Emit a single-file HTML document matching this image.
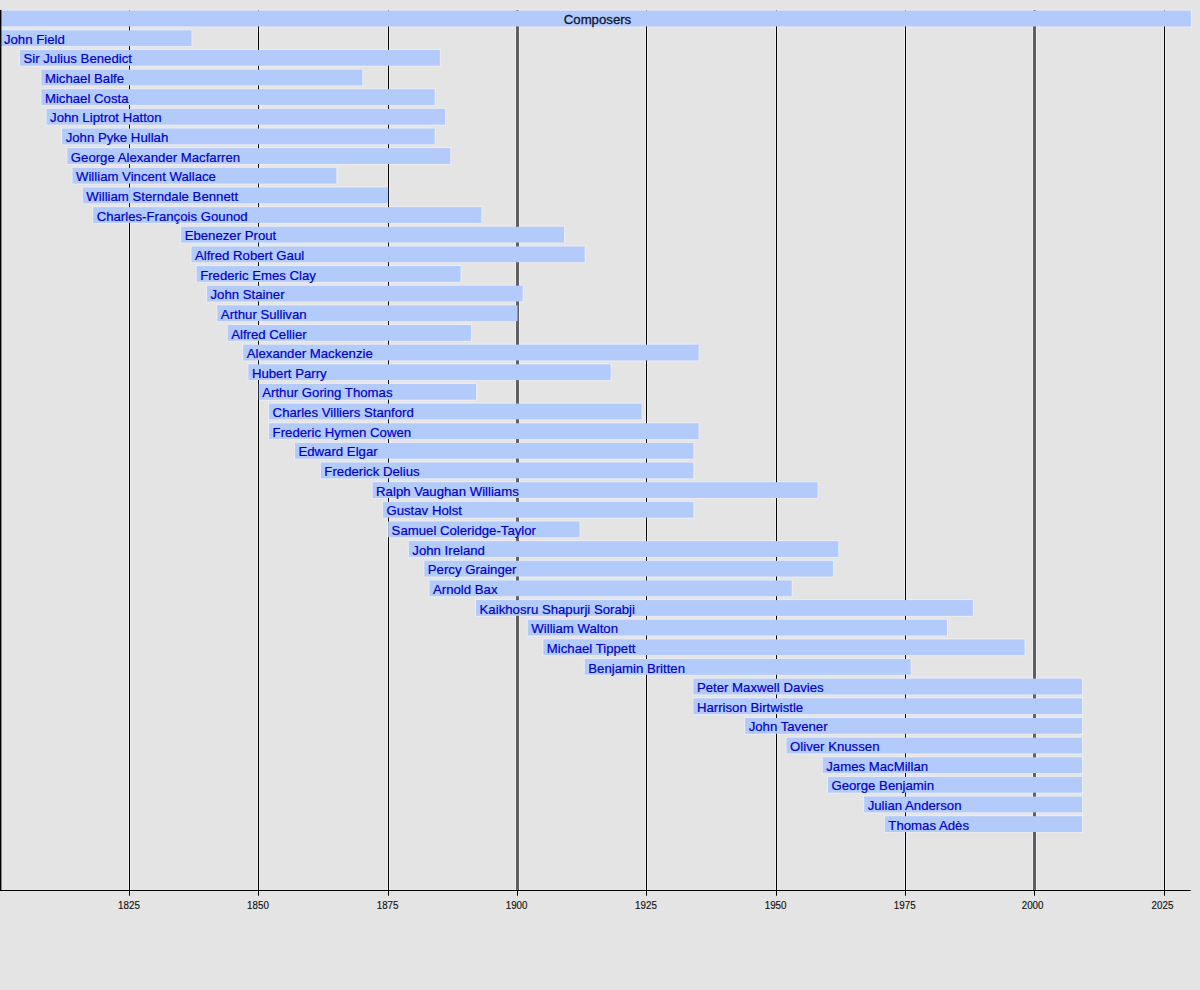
<!DOCTYPE html>
<html><head><meta charset="utf-8"><title>Composers timeline</title>
<style>
html,body{margin:0;padding:0;background:#e4e4e4;}
body{width:1200px;height:990px;overflow:hidden;}
svg{display:block;font-family:"Liberation Sans",sans-serif;}
</style></head><body>
<svg width="1200" height="990" viewBox="0 0 1200 990">
<rect x="0" y="0" width="1200" height="990" fill="#e4e4e4"/>

<rect x="-0.96" y="9.54" width="1192.86" height="18.00" fill="#ebebf1"/>
<rect x="-1.00" y="29.19" width="193.59" height="18.00" fill="#ebebf1"/>
<rect x="18.96" y="48.84" width="422.00" height="18.00" fill="#ebebf1"/>
<rect x="40.44" y="68.48" width="322.91" height="18.00" fill="#ebebf1"/>
<rect x="40.44" y="88.13" width="395.35" height="18.00" fill="#ebebf1"/>
<rect x="45.61" y="107.78" width="400.53" height="18.00" fill="#ebebf1"/>
<rect x="61.13" y="127.43" width="374.66" height="18.00" fill="#ebebf1"/>
<rect x="66.31" y="147.08" width="385.01" height="18.00" fill="#ebebf1"/>
<rect x="71.48" y="166.72" width="265.99" height="18.00" fill="#ebebf1"/>
<rect x="81.83" y="186.37" width="307.39" height="18.00" fill="#ebebf1"/>
<rect x="92.18" y="206.02" width="390.18" height="18.00" fill="#ebebf1"/>
<rect x="180.14" y="225.67" width="385.01" height="18.00" fill="#ebebf1"/>
<rect x="190.49" y="245.32" width="395.35" height="18.00" fill="#ebebf1"/>
<rect x="195.67" y="264.96" width="265.99" height="18.00" fill="#ebebf1"/>
<rect x="206.02" y="284.61" width="317.74" height="18.00" fill="#ebebf1"/>
<rect x="216.36" y="304.26" width="302.22" height="18.00" fill="#ebebf1"/>
<rect x="226.71" y="323.91" width="245.30" height="18.00" fill="#ebebf1"/>
<rect x="242.24" y="343.56" width="457.45" height="18.00" fill="#ebebf1"/>
<rect x="247.41" y="363.20" width="364.31" height="18.00" fill="#ebebf1"/>
<rect x="257.76" y="382.85" width="219.42" height="18.00" fill="#ebebf1"/>
<rect x="268.11" y="402.50" width="374.66" height="18.00" fill="#ebebf1"/>
<rect x="268.11" y="422.15" width="431.58" height="18.00" fill="#ebebf1"/>
<rect x="293.98" y="441.80" width="400.53" height="18.00" fill="#ebebf1"/>
<rect x="319.85" y="461.44" width="374.66" height="18.00" fill="#ebebf1"/>
<rect x="371.60" y="481.09" width="447.10" height="18.00" fill="#ebebf1"/>
<rect x="381.95" y="500.74" width="312.56" height="18.00" fill="#ebebf1"/>
<rect x="387.12" y="520.39" width="193.55" height="18.00" fill="#ebebf1"/>
<rect x="407.82" y="540.04" width="431.58" height="18.00" fill="#ebebf1"/>
<rect x="423.34" y="559.68" width="410.88" height="18.00" fill="#ebebf1"/>
<rect x="428.52" y="579.33" width="364.31" height="18.00" fill="#ebebf1"/>
<rect x="475.08" y="598.98" width="498.84" height="18.00" fill="#ebebf1"/>
<rect x="526.83" y="618.63" width="421.23" height="18.00" fill="#ebebf1"/>
<rect x="542.35" y="638.28" width="483.32" height="18.00" fill="#ebebf1"/>
<rect x="583.75" y="657.92" width="328.09" height="18.00" fill="#ebebf1"/>
<rect x="692.41" y="677.57" width="390.70" height="18.00" fill="#ebebf1"/>
<rect x="692.41" y="697.22" width="390.70" height="18.00" fill="#ebebf1"/>
<rect x="744.15" y="716.87" width="338.95" height="18.00" fill="#ebebf1"/>
<rect x="785.55" y="736.52" width="297.56" height="18.00" fill="#ebebf1"/>
<rect x="821.77" y="756.16" width="261.34" height="18.00" fill="#ebebf1"/>
<rect x="826.94" y="775.81" width="256.16" height="18.00" fill="#ebebf1"/>
<rect x="863.16" y="795.46" width="219.94" height="18.00" fill="#ebebf1"/>
<rect x="883.86" y="815.11" width="199.24" height="18.00" fill="#ebebf1"/>
<rect x="128" y="10.50" width="1" height="879.80" fill="#efeff1"/>
<rect x="130" y="10.50" width="1" height="879.80" fill="#efeff1"/>
<rect x="257" y="10.50" width="1" height="879.80" fill="#efeff1"/>
<rect x="259" y="10.50" width="1" height="879.80" fill="#efeff1"/>
<rect x="387" y="10.50" width="1" height="879.80" fill="#efeff1"/>
<rect x="389" y="10.50" width="1" height="879.80" fill="#efeff1"/>
<rect x="515" y="10.50" width="1" height="879.80" fill="#efeff1"/>
<rect x="519" y="10.50" width="1" height="879.80" fill="#efeff1"/>
<rect x="645" y="10.50" width="1" height="879.80" fill="#efeff1"/>
<rect x="647" y="10.50" width="1" height="879.80" fill="#efeff1"/>
<rect x="775" y="10.50" width="1" height="879.80" fill="#efeff1"/>
<rect x="777" y="10.50" width="1" height="879.80" fill="#efeff1"/>
<rect x="904" y="10.50" width="1" height="879.80" fill="#efeff1"/>
<rect x="906" y="10.50" width="1" height="879.80" fill="#efeff1"/>
<rect x="1032" y="10.50" width="1" height="879.80" fill="#efeff1"/>
<rect x="1036" y="10.50" width="1" height="879.80" fill="#efeff1"/>
<rect x="1163" y="10.50" width="1" height="879.80" fill="#efeff1"/>
<rect x="1165" y="10.50" width="1" height="879.80" fill="#efeff1"/>
<rect x="129" y="10.50" width="1" height="879.80" fill="#000"/>
<rect x="258" y="10.50" width="1" height="879.80" fill="#000"/>
<rect x="388" y="10.50" width="1" height="879.80" fill="#000"/>
<rect x="516" y="10.50" width="3" height="879.80" fill="#606060"/>
<rect x="517" y="10.50" width="1" height="1" fill="#000"/>
<rect x="646" y="10.50" width="1" height="879.80" fill="#000"/>
<rect x="776" y="10.50" width="1" height="879.80" fill="#000"/>
<rect x="905" y="10.50" width="1" height="879.80" fill="#000"/>
<rect x="1033" y="10.50" width="3" height="879.80" fill="#606060"/>
<rect x="1034" y="10.50" width="1" height="1" fill="#000"/>
<rect x="1164" y="10.50" width="1" height="879.80" fill="#000"/>
<defs><filter id="sb" x="-1%" y="-5%" width="102%" height="110%"><feGaussianBlur stdDeviation="0.45"/></filter></defs><g filter="url(#sb)"><rect x="0.04" y="10.64" width="1190.76" height="15.8" fill="#b3cbfb"/>
<rect x="0.00" y="30.29" width="191.49" height="15.8" fill="#b3cbfb"/>
<rect x="19.96" y="49.94" width="419.90" height="15.8" fill="#b3cbfb"/>
<rect x="41.44" y="69.58" width="320.81" height="15.8" fill="#b3cbfb"/>
<rect x="41.44" y="89.23" width="393.25" height="15.8" fill="#b3cbfb"/>
<rect x="46.61" y="108.88" width="398.43" height="15.8" fill="#b3cbfb"/>
<rect x="62.13" y="128.53" width="372.56" height="15.8" fill="#b3cbfb"/>
<rect x="67.31" y="148.18" width="382.91" height="15.8" fill="#b3cbfb"/>
<rect x="72.48" y="167.82" width="263.89" height="15.8" fill="#b3cbfb"/>
<rect x="82.83" y="187.47" width="305.29" height="15.8" fill="#b3cbfb"/>
<rect x="93.18" y="207.12" width="388.08" height="15.8" fill="#b3cbfb"/>
<rect x="181.14" y="226.77" width="382.91" height="15.8" fill="#b3cbfb"/>
<rect x="191.49" y="246.42" width="393.25" height="15.8" fill="#b3cbfb"/>
<rect x="196.67" y="266.06" width="263.89" height="15.8" fill="#b3cbfb"/>
<rect x="207.02" y="285.71" width="315.64" height="15.8" fill="#b3cbfb"/>
<rect x="217.36" y="305.36" width="300.12" height="15.8" fill="#b3cbfb"/>
<rect x="227.71" y="325.01" width="243.20" height="15.8" fill="#b3cbfb"/>
<rect x="243.24" y="344.66" width="455.35" height="15.8" fill="#b3cbfb"/>
<rect x="248.41" y="364.30" width="362.21" height="15.8" fill="#b3cbfb"/>
<rect x="258.76" y="383.95" width="217.32" height="15.8" fill="#b3cbfb"/>
<rect x="269.11" y="403.60" width="372.56" height="15.8" fill="#b3cbfb"/>
<rect x="269.11" y="423.25" width="429.48" height="15.8" fill="#b3cbfb"/>
<rect x="294.98" y="442.90" width="398.43" height="15.8" fill="#b3cbfb"/>
<rect x="320.85" y="462.54" width="372.56" height="15.8" fill="#b3cbfb"/>
<rect x="372.60" y="482.19" width="445.00" height="15.8" fill="#b3cbfb"/>
<rect x="382.95" y="501.84" width="310.46" height="15.8" fill="#b3cbfb"/>
<rect x="388.12" y="521.49" width="191.45" height="15.8" fill="#b3cbfb"/>
<rect x="408.82" y="541.14" width="429.48" height="15.8" fill="#b3cbfb"/>
<rect x="424.34" y="560.78" width="408.78" height="15.8" fill="#b3cbfb"/>
<rect x="429.52" y="580.43" width="362.21" height="15.8" fill="#b3cbfb"/>
<rect x="476.08" y="600.08" width="496.74" height="15.8" fill="#b3cbfb"/>
<rect x="527.83" y="619.73" width="419.13" height="15.8" fill="#b3cbfb"/>
<rect x="543.35" y="639.38" width="481.22" height="15.8" fill="#b3cbfb"/>
<rect x="584.75" y="659.02" width="325.99" height="15.8" fill="#b3cbfb"/>
<rect x="693.41" y="678.67" width="388.60" height="15.8" fill="#b3cbfb"/>
<rect x="693.41" y="698.32" width="388.60" height="15.8" fill="#b3cbfb"/>
<rect x="745.15" y="717.97" width="336.85" height="15.8" fill="#b3cbfb"/>
<rect x="786.55" y="737.62" width="295.46" height="15.8" fill="#b3cbfb"/>
<rect x="822.77" y="757.26" width="259.24" height="15.8" fill="#b3cbfb"/>
<rect x="827.94" y="776.91" width="254.06" height="15.8" fill="#b3cbfb"/>
<rect x="864.16" y="796.56" width="217.84" height="15.8" fill="#b3cbfb"/>
<rect x="884.86" y="816.21" width="197.14" height="15.8" fill="#b3cbfb"/></g>
<text x="597.5" y="24.14" font-size="13.2" fill="#0e1436" stroke="#0e1436" stroke-width="0.3" text-anchor="middle">Composers</text>
<text x="3.90" y="43.79" font-size="13.2" fill="#0000c4" stroke="#0000c4" stroke-width="0.2">John Field</text>
<text x="23.46" y="63.44" font-size="13.2" fill="#0000c4" stroke="#0000c4" stroke-width="0.2">Sir Julius Benedict</text>
<text x="44.94" y="83.08" font-size="13.2" fill="#0000c4" stroke="#0000c4" stroke-width="0.2">Michael Balfe</text>
<text x="44.94" y="102.73" font-size="13.2" fill="#0000c4" stroke="#0000c4" stroke-width="0.2">Michael Costa</text>
<text x="50.11" y="122.38" font-size="13.2" fill="#0000c4" stroke="#0000c4" stroke-width="0.2">John Liptrot Hatton</text>
<text x="65.63" y="142.03" font-size="13.2" fill="#0000c4" stroke="#0000c4" stroke-width="0.2">John Pyke Hullah</text>
<text x="70.81" y="161.68" font-size="13.2" fill="#0000c4" stroke="#0000c4" stroke-width="0.2">George Alexander Macfarren</text>
<text x="75.98" y="181.32" font-size="13.2" fill="#0000c4" stroke="#0000c4" stroke-width="0.2">William Vincent Wallace</text>
<text x="86.33" y="200.97" font-size="13.2" fill="#0000c4" stroke="#0000c4" stroke-width="0.2">William Sterndale Bennett</text>
<text x="96.68" y="220.62" font-size="13.2" fill="#0000c4" stroke="#0000c4" stroke-width="0.2">Charles-François Gounod</text>
<text x="184.64" y="240.27" font-size="13.2" fill="#0000c4" stroke="#0000c4" stroke-width="0.2">Ebenezer Prout</text>
<text x="194.99" y="259.92" font-size="13.2" fill="#0000c4" stroke="#0000c4" stroke-width="0.2">Alfred Robert Gaul</text>
<text x="200.17" y="279.56" font-size="13.2" fill="#0000c4" stroke="#0000c4" stroke-width="0.2">Frederic Emes Clay</text>
<text x="210.52" y="299.21" font-size="13.2" fill="#0000c4" stroke="#0000c4" stroke-width="0.2">John Stainer</text>
<text x="220.86" y="318.86" font-size="13.2" fill="#0000c4" stroke="#0000c4" stroke-width="0.2">Arthur Sullivan</text>
<text x="231.21" y="338.51" font-size="13.2" fill="#0000c4" stroke="#0000c4" stroke-width="0.2">Alfred Cellier</text>
<text x="246.74" y="358.16" font-size="13.2" fill="#0000c4" stroke="#0000c4" stroke-width="0.2">Alexander Mackenzie</text>
<text x="251.91" y="377.80" font-size="13.2" fill="#0000c4" stroke="#0000c4" stroke-width="0.2">Hubert Parry</text>
<text x="262.26" y="397.45" font-size="13.2" fill="#0000c4" stroke="#0000c4" stroke-width="0.2">Arthur Goring Thomas</text>
<text x="272.61" y="417.10" font-size="13.2" fill="#0000c4" stroke="#0000c4" stroke-width="0.2">Charles Villiers Stanford</text>
<text x="272.61" y="436.75" font-size="13.2" fill="#0000c4" stroke="#0000c4" stroke-width="0.2">Frederic Hymen Cowen</text>
<text x="298.48" y="456.40" font-size="13.2" fill="#0000c4" stroke="#0000c4" stroke-width="0.2">Edward Elgar</text>
<text x="324.35" y="476.04" font-size="13.2" fill="#0000c4" stroke="#0000c4" stroke-width="0.2">Frederick Delius</text>
<text x="376.10" y="495.69" font-size="13.2" fill="#0000c4" stroke="#0000c4" stroke-width="0.2">Ralph Vaughan Williams</text>
<text x="386.45" y="515.34" font-size="13.2" fill="#0000c4" stroke="#0000c4" stroke-width="0.2">Gustav Holst</text>
<text x="391.62" y="534.99" font-size="13.2" fill="#0000c4" stroke="#0000c4" stroke-width="0.2">Samuel Coleridge-Taylor</text>
<text x="412.32" y="554.64" font-size="13.2" fill="#0000c4" stroke="#0000c4" stroke-width="0.2">John Ireland</text>
<text x="427.84" y="574.28" font-size="13.2" fill="#0000c4" stroke="#0000c4" stroke-width="0.2">Percy Grainger</text>
<text x="433.02" y="593.93" font-size="13.2" fill="#0000c4" stroke="#0000c4" stroke-width="0.2">Arnold Bax</text>
<text x="479.58" y="613.58" font-size="13.2" fill="#0000c4" stroke="#0000c4" stroke-width="0.2">Kaikhosru Shapurji Sorabji</text>
<text x="531.33" y="633.23" font-size="13.2" fill="#0000c4" stroke="#0000c4" stroke-width="0.2">William Walton</text>
<text x="546.85" y="652.88" font-size="13.2" fill="#0000c4" stroke="#0000c4" stroke-width="0.2">Michael Tippett</text>
<text x="588.25" y="672.52" font-size="13.2" fill="#0000c4" stroke="#0000c4" stroke-width="0.2">Benjamin Britten</text>
<text x="696.91" y="692.17" font-size="13.2" fill="#0000c4" stroke="#0000c4" stroke-width="0.2">Peter Maxwell Davies</text>
<text x="696.91" y="711.82" font-size="13.2" fill="#0000c4" stroke="#0000c4" stroke-width="0.2">Harrison Birtwistle</text>
<text x="748.65" y="731.47" font-size="13.2" fill="#0000c4" stroke="#0000c4" stroke-width="0.2">John Tavener</text>
<text x="790.05" y="751.12" font-size="13.2" fill="#0000c4" stroke="#0000c4" stroke-width="0.2">Oliver Knussen</text>
<text x="826.27" y="770.76" font-size="13.2" fill="#0000c4" stroke="#0000c4" stroke-width="0.2">James MacMillan</text>
<text x="831.44" y="790.41" font-size="13.2" fill="#0000c4" stroke="#0000c4" stroke-width="0.2">George Benjamin</text>
<text x="867.66" y="810.06" font-size="13.2" fill="#0000c4" stroke="#0000c4" stroke-width="0.2">Julian Anderson</text>
<text x="888.36" y="829.71" font-size="13.2" fill="#0000c4" stroke="#0000c4" stroke-width="0.2">Thomas Adès</text>
<rect x="0" y="9.9" width="1.4" height="881.10" fill="#000"/>
<rect x="0" y="890" width="1190.65" height="1" fill="#000"/>
<rect x="129" y="890" width="1" height="5.7" fill="#000"/>
<text transform="translate(129.00,909.2) scale(0.935,1)" font-size="10.5" fill="#111" stroke="#111" stroke-width="0.15" text-anchor="middle">1825</text>
<rect x="258" y="890" width="1" height="5.7" fill="#000"/>
<text transform="translate(258.00,909.2) scale(0.935,1)" font-size="10.5" fill="#111" stroke="#111" stroke-width="0.15" text-anchor="middle">1850</text>
<rect x="388" y="890" width="1" height="5.7" fill="#000"/>
<text transform="translate(387.60,909.2) scale(0.935,1)" font-size="10.5" fill="#111" stroke="#111" stroke-width="0.15" text-anchor="middle">1875</text>
<rect x="517" y="890" width="1" height="5.7" fill="#000"/>
<text transform="translate(516.60,909.2) scale(0.935,1)" font-size="10.5" fill="#111" stroke="#111" stroke-width="0.15" text-anchor="middle">1900</text>
<rect x="646" y="890" width="1" height="5.7" fill="#000"/>
<text transform="translate(646.00,909.2) scale(0.935,1)" font-size="10.5" fill="#111" stroke="#111" stroke-width="0.15" text-anchor="middle">1925</text>
<rect x="776" y="890" width="1" height="5.7" fill="#000"/>
<text transform="translate(775.60,909.2) scale(0.935,1)" font-size="10.5" fill="#111" stroke="#111" stroke-width="0.15" text-anchor="middle">1950</text>
<rect x="905" y="890" width="1" height="5.7" fill="#000"/>
<text transform="translate(904.70,909.2) scale(0.935,1)" font-size="10.5" fill="#111" stroke="#111" stroke-width="0.15" text-anchor="middle">1975</text>
<rect x="1034" y="890" width="1" height="5.7" fill="#000"/>
<text transform="translate(1032.60,909.2) scale(0.935,1)" font-size="10.5" fill="#111" stroke="#111" stroke-width="0.15" text-anchor="middle">2000</text>
<rect x="1164" y="890" width="1" height="5.7" fill="#000"/>
<text transform="translate(1162.50,909.2) scale(0.935,1)" font-size="10.5" fill="#111" stroke="#111" stroke-width="0.15" text-anchor="middle">2025</text>
</svg>
</body></html>
